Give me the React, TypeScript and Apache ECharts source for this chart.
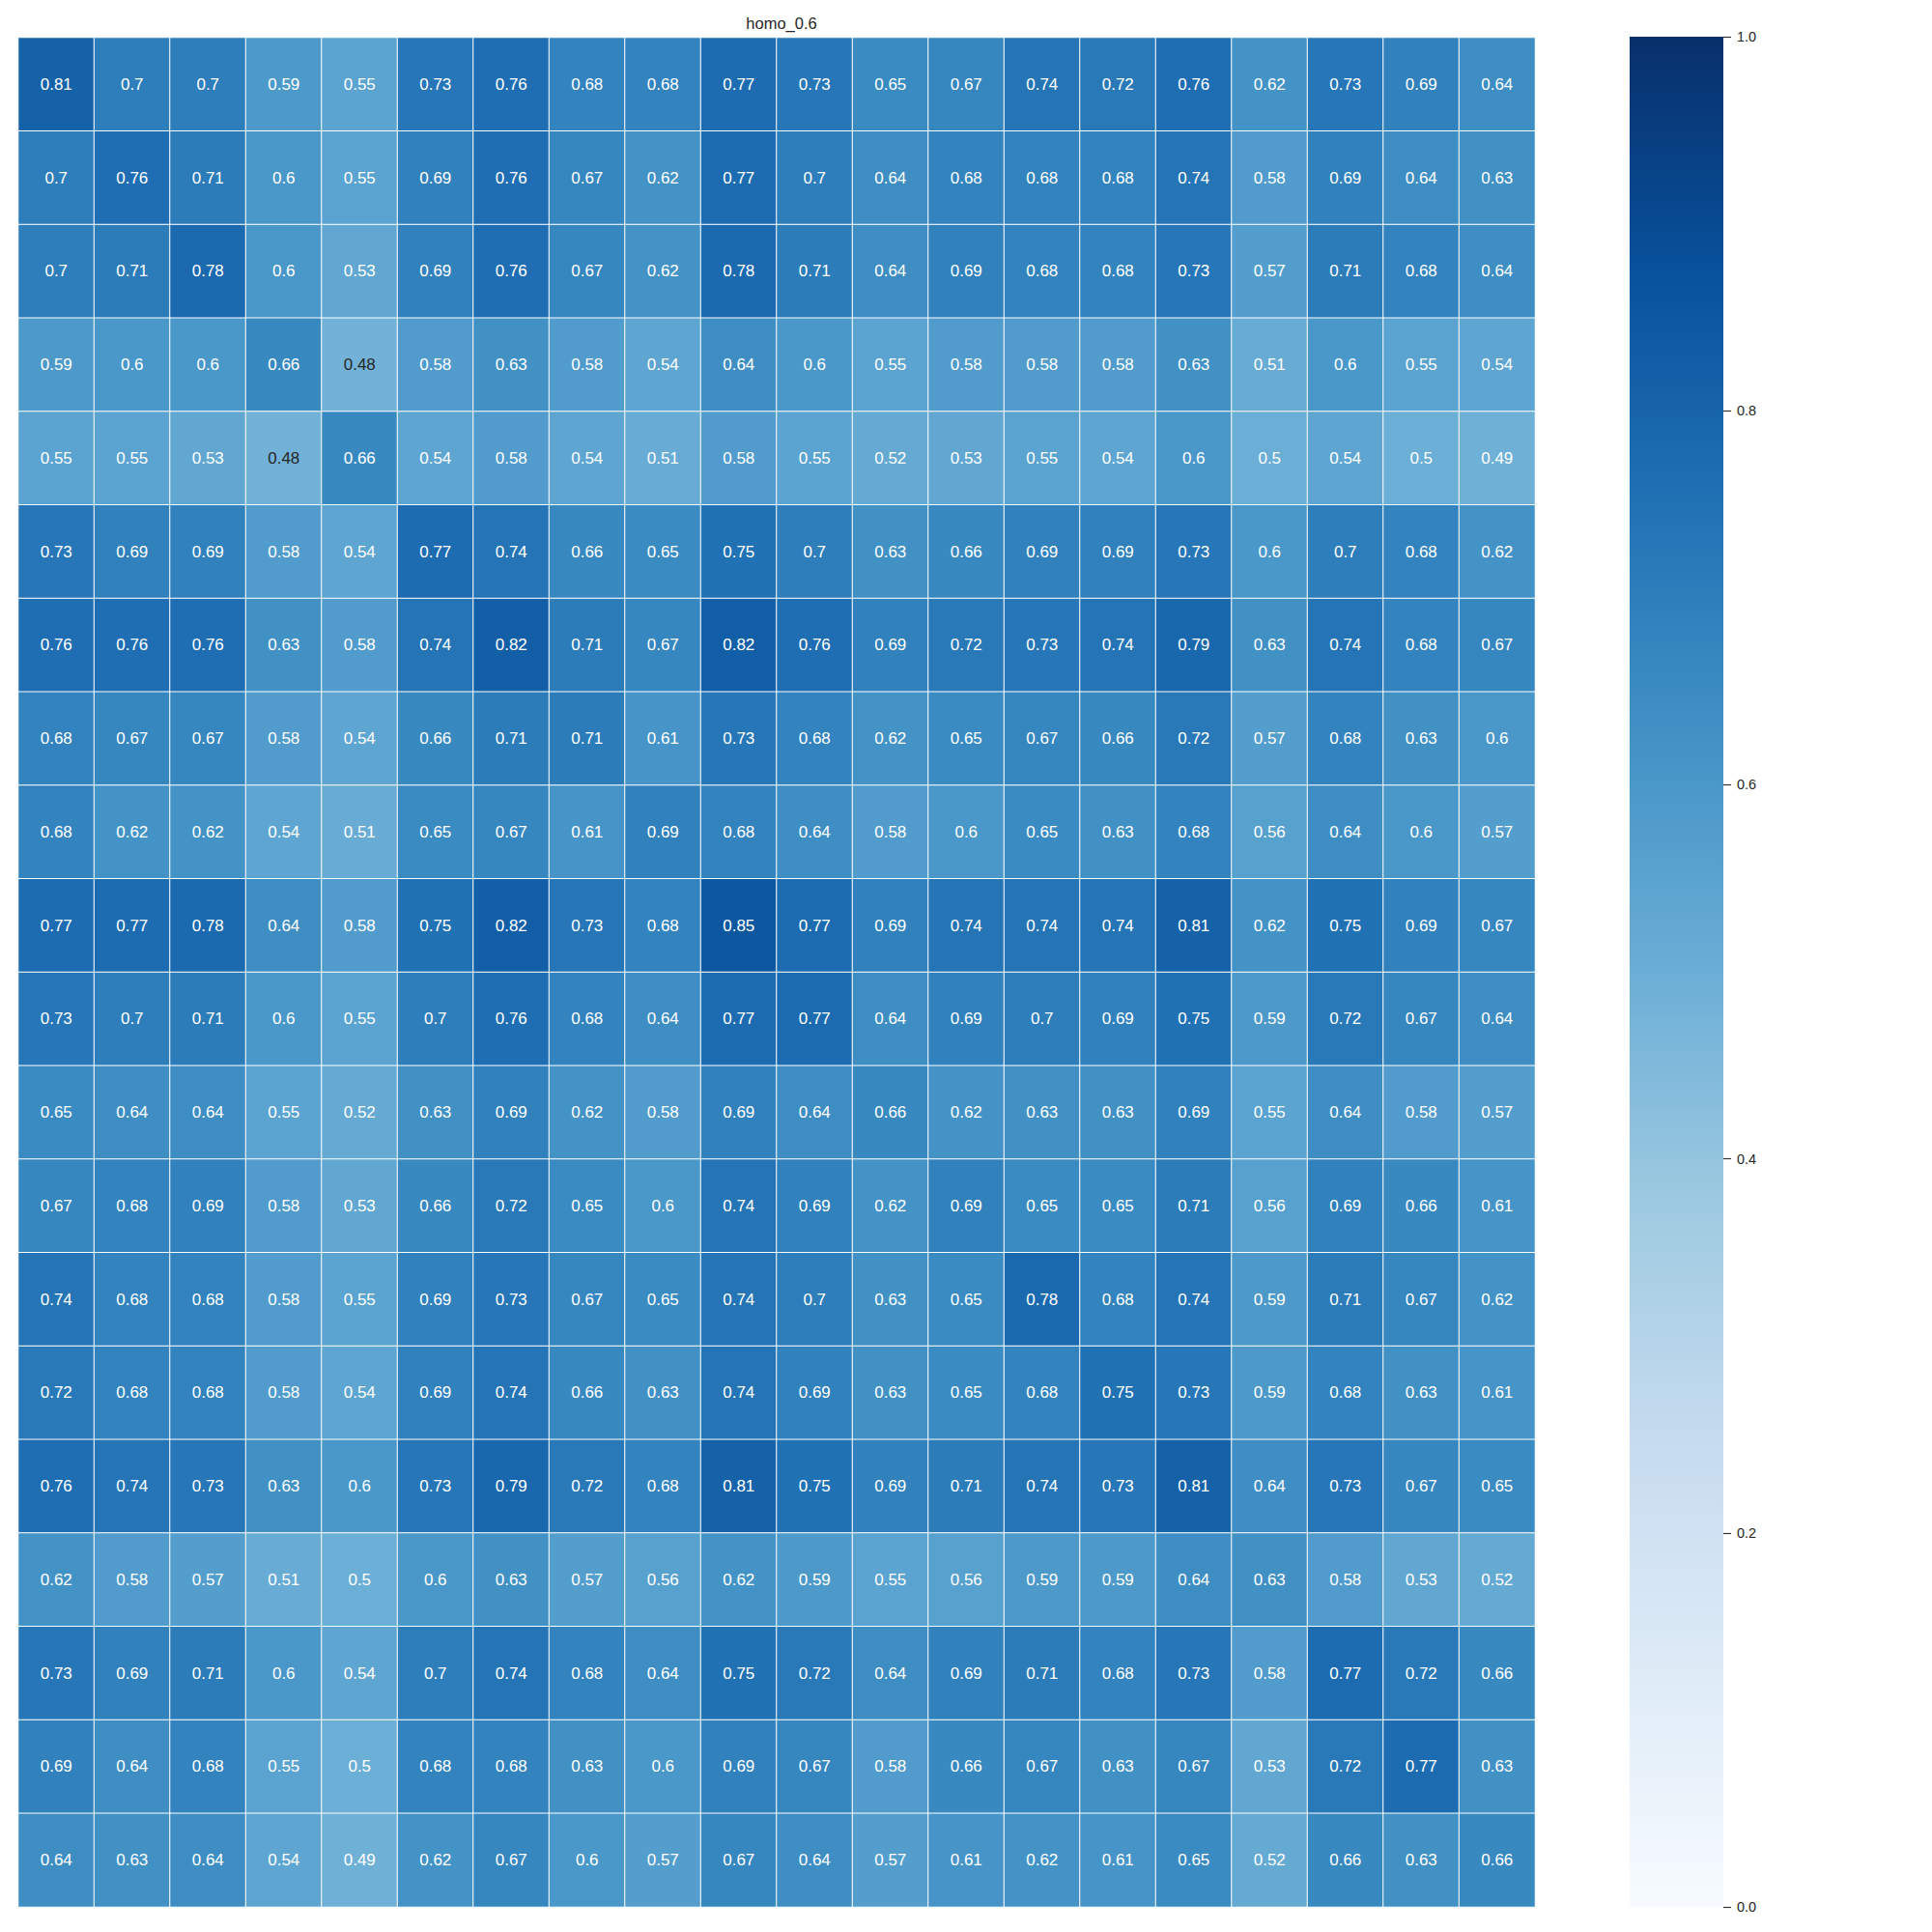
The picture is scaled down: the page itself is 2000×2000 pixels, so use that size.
import React, { useEffect, useRef } from "react";
import * as echarts from "echarts";

const title = "homo_0.6";
const colLabels = Array.from({ length: 20 }, (_, i) => String(i));
const rowLabels = Array.from({ length: 20 }, (_, i) => String(i));

const row01 = [0.81, 0.7, 0.7, 0.59, 0.55, 0.73, 0.76, 0.68, 0.68, 0.77, 0.73, 0.65, 0.67, 0.74, 0.72, 0.76, 0.62, 0.73, 0.69, 0.64];
const row02 = [0.7, 0.76, 0.71, 0.6, 0.55, 0.69, 0.76, 0.67, 0.62, 0.77, 0.7, 0.64, 0.68, 0.68, 0.68, 0.74, 0.58, 0.69, 0.64, 0.63];
const row03 = [0.7, 0.71, 0.78, 0.6, 0.53, 0.69, 0.76, 0.67, 0.62, 0.78, 0.71, 0.64, 0.69, 0.68, 0.68, 0.73, 0.57, 0.71, 0.68, 0.64];
const row04 = [0.59, 0.6, 0.6, 0.66, 0.48, 0.58, 0.63, 0.58, 0.54, 0.64, 0.6, 0.55, 0.58, 0.58, 0.58, 0.63, 0.51, 0.6, 0.55, 0.54];
const row05 = [0.55, 0.55, 0.53, 0.48, 0.66, 0.54, 0.58, 0.54, 0.51, 0.58, 0.55, 0.52, 0.53, 0.55, 0.54, 0.6, 0.5, 0.54, 0.5, 0.49];
const row06 = [0.73, 0.69, 0.69, 0.58, 0.54, 0.77, 0.74, 0.66, 0.65, 0.75, 0.7, 0.63, 0.66, 0.69, 0.69, 0.73, 0.6, 0.7, 0.68, 0.62];
const row07 = [0.76, 0.76, 0.76, 0.63, 0.58, 0.74, 0.82, 0.71, 0.67, 0.82, 0.76, 0.69, 0.72, 0.73, 0.74, 0.79, 0.63, 0.74, 0.68, 0.67];
const row08 = [0.68, 0.67, 0.67, 0.58, 0.54, 0.66, 0.71, 0.71, 0.61, 0.73, 0.68, 0.62, 0.65, 0.67, 0.66, 0.72, 0.57, 0.68, 0.63, 0.6];
const row09 = [0.68, 0.62, 0.62, 0.54, 0.51, 0.65, 0.67, 0.61, 0.69, 0.68, 0.64, 0.58, 0.6, 0.65, 0.63, 0.68, 0.56, 0.64, 0.6, 0.57];
const row10 = [0.77, 0.77, 0.78, 0.64, 0.58, 0.75, 0.82, 0.73, 0.68, 0.85, 0.77, 0.69, 0.74, 0.74, 0.74, 0.81, 0.62, 0.75, 0.69, 0.67];
const row11 = [0.73, 0.7, 0.71, 0.6, 0.55, 0.7, 0.76, 0.68, 0.64, 0.77, 0.77, 0.64, 0.69, 0.7, 0.69, 0.75, 0.59, 0.72, 0.67, 0.64];
const row12 = [0.65, 0.64, 0.64, 0.55, 0.52, 0.63, 0.69, 0.62, 0.58, 0.69, 0.64, 0.66, 0.62, 0.63, 0.63, 0.69, 0.55, 0.64, 0.58, 0.57];
const row13 = [0.67, 0.68, 0.69, 0.58, 0.53, 0.66, 0.72, 0.65, 0.6, 0.74, 0.69, 0.62, 0.69, 0.65, 0.65, 0.71, 0.56, 0.69, 0.66, 0.61];
const row14 = [0.74, 0.68, 0.68, 0.58, 0.55, 0.69, 0.73, 0.67, 0.65, 0.74, 0.7, 0.63, 0.65, 0.78, 0.68, 0.74, 0.59, 0.71, 0.67, 0.62];
const row15 = [0.72, 0.68, 0.68, 0.58, 0.54, 0.69, 0.74, 0.66, 0.63, 0.74, 0.69, 0.63, 0.65, 0.68, 0.75, 0.73, 0.59, 0.68, 0.63, 0.61];
const row16 = [0.76, 0.74, 0.73, 0.63, 0.6, 0.73, 0.79, 0.72, 0.68, 0.81, 0.75, 0.69, 0.71, 0.74, 0.73, 0.81, 0.64, 0.73, 0.67, 0.65];
const row17 = [0.62, 0.58, 0.57, 0.51, 0.5, 0.6, 0.63, 0.57, 0.56, 0.62, 0.59, 0.55, 0.56, 0.59, 0.59, 0.64, 0.63, 0.58, 0.53, 0.52];
const row18 = [0.73, 0.69, 0.71, 0.6, 0.54, 0.7, 0.74, 0.68, 0.64, 0.75, 0.72, 0.64, 0.69, 0.71, 0.68, 0.73, 0.58, 0.77, 0.72, 0.66];
const row19 = [0.69, 0.64, 0.68, 0.55, 0.5, 0.68, 0.68, 0.63, 0.6, 0.69, 0.67, 0.58, 0.66, 0.67, 0.63, 0.67, 0.53, 0.72, 0.77, 0.63];
const row20 = [0.64, 0.63, 0.64, 0.54, 0.49, 0.62, 0.67, 0.6, 0.57, 0.67, 0.64, 0.57, 0.61, 0.62, 0.61, 0.65, 0.52, 0.66, 0.63, 0.66];

const rows = [row01, row02, row03, row04, row05, row06, row07, row08, row09, row10,
  row11, row12, row13, row14, row15, row16, row17, row18, row19, row20];

const colorbarTicks = [0, 0.2, 0.4, 0.6, 0.8, 1.0];

// matplotlib "Blues"
const blues = ["#f7fbff", "#deebf7", "#c6dbef", "#9ecae1", "#6baed6", "#4292c6", "#2171b5", "#08519c", "#08306b"];

const FONT = "'Liberation Sans', Arial, 'DejaVu Sans', sans-serif";

export default function App() {
  const ref = useRef<HTMLDivElement>(null);
  useEffect(() => {
    if (!ref.current) return;
    const chart = echarts.init(ref.current, null, { renderer: "svg" });
    const data: any[] = [];
    rows.forEach((r, ri) => {
      r.forEach((v, ci) => {
        data.push({
          value: [ci, ri, v],
          label: { color: v <= 0.48 ? "#262626" : "#ffffff" },
        });
      });
    });
    const cbX = 1687, cbY = 38, cbW = 97, cbH = 1936;
    chart.setOption({
      animation: false,
      backgroundColor: "#ffffff",
      title: {
        text: title,
        left: 804,
        top: 10,
        textAlign: "center",
        textStyle: { fontFamily: FONT, fontSize: 16.5, fontWeight: "normal", color: "#262626" },
      },
      grid: [
        { left: 19, top: 39, width: 1570, height: 1935 },
        { left: cbX, top: cbY, width: cbW, height: cbH },
      ],
      xAxis: [
        { type: "category", data: colLabels, gridIndex: 0, show: false },
        { type: "category", data: ["cb"], gridIndex: 1, show: false },
      ],
      yAxis: [
        { type: "category", data: rowLabels, gridIndex: 0, inverse: true, show: false },
        {
          type: "value",
          gridIndex: 1,
          min: 0,
          max: 1,
          interval: 0.2,
          position: "right",
          offset: 0,
          axisLine: { show: false, onZero: false },
          splitLine: { show: false },
          axisTick: { show: true, inside: false, length: 8, lineStyle: { color: "#333333", width: 1.2 } },
          axisLabel: {
            show: true,
            margin: 14,
            fontFamily: FONT,
            fontSize: 14.5,
            color: "#262626",
            formatter: (v: number) => (colorbarTicks.includes(Math.round(v * 10) / 10) ? v.toFixed(1) : ""),
          },
          z: 10,
        },
      ],
      visualMap: {
        show: false,
        min: 0,
        max: 1,
        dimension: 2,
        seriesIndex: 0,
        inRange: { color: blues },
      },
      graphic: [
        {
          type: "rect",
          shape: { x: cbX, y: cbY, width: cbW, height: cbH },
          style: {
            fill: new echarts.graphic.LinearGradient(0, 0, 0, 1,
              blues.slice().reverse().map((c, i) => ({ offset: i / (blues.length - 1), color: c }))),
          },
          z: -1,
        },
      ],
      series: [
        {
          type: "heatmap",
          xAxisIndex: 0,
          yAxisIndex: 0,
          data,
          itemStyle: { borderColor: "#ffffff", borderWidth: 1 },
          label: {
            show: true,
            fontFamily: FONT,
            fontSize: 17,
            formatter: (p: any) => String(p.value[2]),
          },
          emphasis: { disabled: true },
        },
      ],
    });
    return () => chart.dispose();
  }, []);
  return (
    <div
      ref={ref}
      style={{ position: "absolute", left: 0, top: 0, width: 2000, height: 2000 }}
    />
  );
}
